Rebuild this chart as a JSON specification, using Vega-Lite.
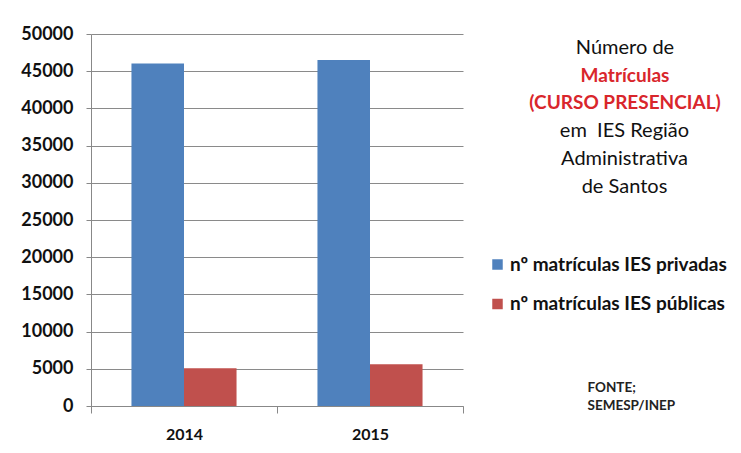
{
  "$schema": "https://vega.github.io/schema/vega-lite/v6.json",
  "autosize": {"type": "none"},
  "width": 372,
  "height": 372,
  "padding": {"left": 91, "top": 34, "right": 278, "bottom": 47},
  "background": "white",
  "data": {"values": [
    {"ano": "2014", "serie": "nº matrículas IES privadas", "matriculas": 46050},
    {"ano": "2014", "serie": "nº matrículas IES públicas", "matriculas": 5070},
    {"ano": "2015", "serie": "nº matrículas IES privadas", "matriculas": 46500},
    {"ano": "2015", "serie": "nº matrículas IES públicas", "matriculas": 5600}
  ]},
  "title": {
    "text": ["Número de"],
    "subtitle": ["Matrículas", "(CURSO PRESENCIAL)"],
    "orient": "top",
    "anchor": "end",
    "frame": "group",
    "align": "center",
    "dx": 162,
    "dy": 88,
    "offset": 0,
    "font": "Lato",
    "fontSize": 20,
    "fontWeight": "normal",
    "color": "#111111",
    "lineHeight": 28,
    "subtitleFont": "Lato",
    "subtitleFontSize": 19,
    "subtitleFontWeight": "bold",
    "subtitleColor": "#D9262C",
    "subtitleLineHeight": 27,
    "subtitlePadding": 9
  },
  "mark": {"type": "bar"},
  "encoding": {
    "x": {
      "field": "ano",
      "type": "nominal",
      "scale": {"paddingInner": 0, "paddingOuter": 0},
      "axis": {
        "title": ["em\u00a0 IES Região", "Administrativa", "de Santos"],
        "titleX": 533,
        "titleY": -286,
        "titleAlign": "center",
        "titleBaseline": "top",
        "titleAngle": 0,
        "titleFont": "Lato",
        "titleFontSize": 20,
        "titleFontWeight": "normal",
        "titleColor": "#111111",
        "titleLineHeight": 28,
        "labelAngle": 0,
        "labelFont": "Lato",
        "labelFontSize": 16,
        "labelFontWeight": "bold",
        "labelColor": "#111111",
        "labelPadding": 13,
        "tickBand": "extent",
        "tickSize": 7,
        "tickColor": "#888888",
        "domainColor": "#888888",
        "grid": false
      }
    },
    "xOffset": {
      "field": "serie",
      "type": "nominal",
      "scale": {"paddingInner": 0, "paddingOuter": 0.77}
    },
    "y": {
      "field": "matriculas",
      "type": "quantitative",
      "scale": {"domain": [0, 50000], "nice": false},
      "axis": {
        "title": ["FONTE;", "SEMESP/INEP"],
        "titleX": 496,
        "titleY": 346,
        "titleAlign": "left",
        "titleBaseline": "top",
        "titleAngle": 0,
        "titleFont": "Lato",
        "titleFontSize": 13.5,
        "titleFontWeight": "bold",
        "titleColor": "#222222",
        "titleLineHeight": 18,
        "values": [0, 5000, 10000, 15000, 20000, 25000, 30000, 35000, 40000, 45000, 50000],
        "format": "d",
        "labelFont": "Lato",
        "labelFontSize": 18,
        "labelFontWeight": "bold",
        "labelColor": "#111111",
        "labelPadding": 13,
        "tickSize": 5,
        "tickColor": "#888888",
        "domainColor": "#888888",
        "grid": true,
        "gridColor": "#8a8a8a",
        "gridWidth": 1
      }
    },
    "color": {
      "field": "serie",
      "type": "nominal",
      "scale": {
        "domain": ["nº matrículas IES privadas", "nº matrículas IES públicas"],
        "range": ["#4F81BD", "#C0504D"]
      },
      "legend": {
        "orient": "none",
        "legendX": 397,
        "legendY": 221,
        "title": null,
        "labelFont": "Lato",
        "labelFontSize": 19,
        "labelFontWeight": "bold",
        "labelColor": "#111111",
        "labelOffset": 3,
        "labelLimit": 300,
        "symbolType": "square",
        "symbolSize": 110,
        "symbolStrokeWidth": 0,
        "rowPadding": 19.5
      }
    }
  },
  "config": {
    "view": {"stroke": null},
    "axis": {"domainWidth": 1, "tickWidth": 1}
  }
}
